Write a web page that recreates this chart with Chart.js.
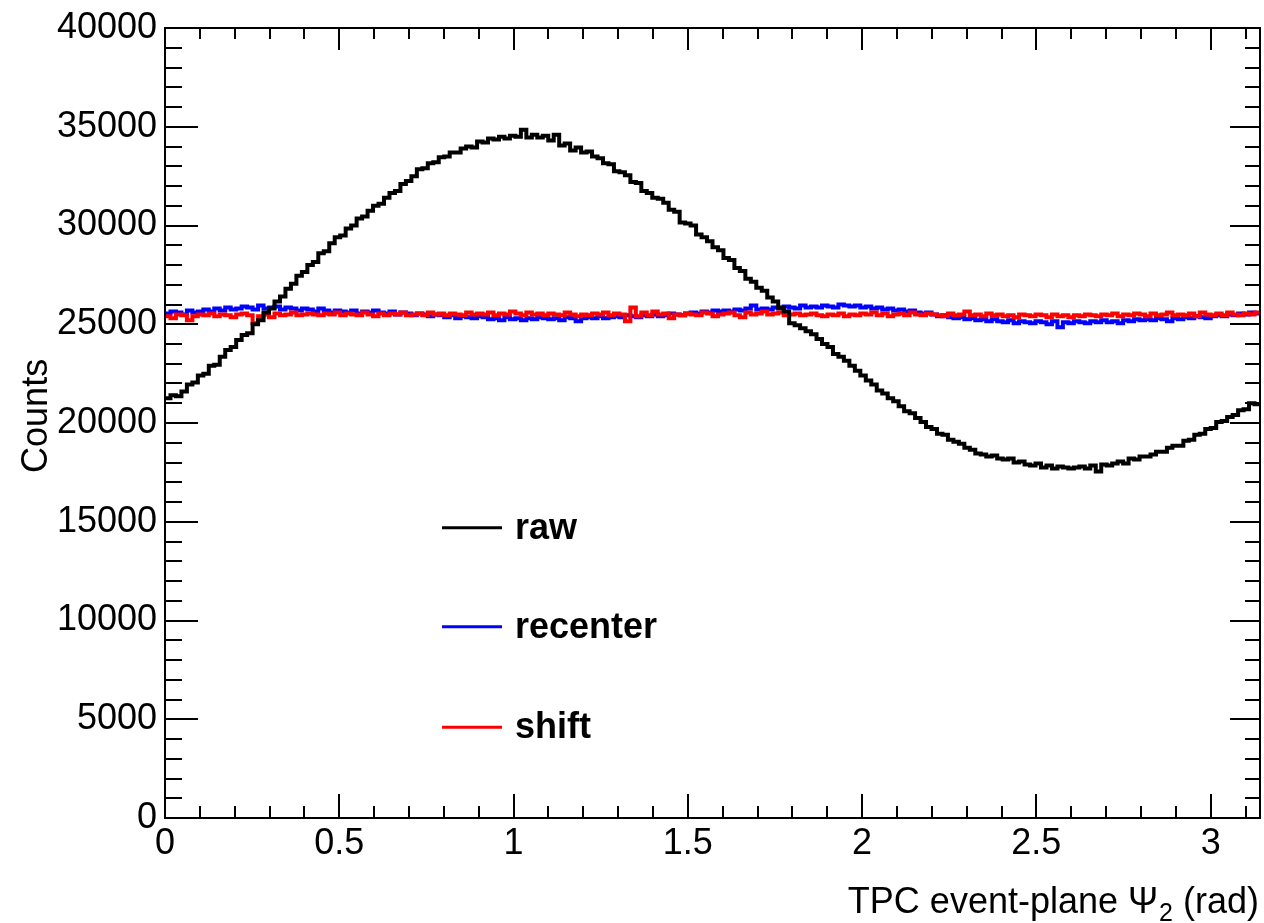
<!DOCTYPE html>
<html><head><meta charset="utf-8">
<script src="https://cdn.jsdelivr.net/npm/chart.js@4/dist/chart.umd.min.js"></script>
<style>html,body{margin:0;padding:0;background:#fff;overflow:hidden}#wrap{width:1264px;height:923px}</style>
</head><body><div id="wrap"><canvas id="c" width="1264" height="923"></canvas></div>
<script>
// ---------- data ----------
const seriesNames = ['raw', 'recenter', 'shift'];
const seriesColors = ['#000000', '#0000ff', '#ff0000'];
const xRange = [0, Math.PI];
const yRange = [0, 40000];
const xTickValues = [0, 0.5, 1, 1.5, 2, 2.5, 3];
const xTickLabels = ['0', '0.5', '1', '1.5', '2', '2.5', '3'];
const yTickValues = [0, 5000, 10000, 15000, 20000, 25000, 30000, 35000, 40000];
const yTickLabels = ['0', '5000', '10000', '15000', '20000', '25000', '30000', '35000', '40000'];
const xTitleMain = 'TPC event-plane \u03A8';
const xTitleSub = '2';
const xTitleTail = ' (rad)';
const yTitle = 'Counts';

const rawCounts = [
21250,21400,21350,21600,21950,22050,22400,22500,22900,22950,
23350,23700,23850,24200,24450,24550,25000,25200,25600,25800,
26150,26400,26800,27050,27450,27650,28000,28150,28600,28700,
29100,29400,29500,29850,30000,30350,30450,30750,31000,31100,
31400,31650,31750,32100,32250,32500,32850,32900,33150,33200,
33450,33500,33700,33700,33900,34000,33950,34250,34200,34400,
34350,34500,34400,34550,34500,34850,34450,34600,34450,34550,
34300,34600,34050,34150,33800,33950,33700,33750,33500,33400,
33150,33100,32750,32700,32550,32200,32150,31750,31650,31400,
31350,31150,30800,30700,30150,30100,30000,29550,29400,29200,
28900,28750,28350,28250,27850,27700,27300,27150,26850,26700,
26350,26150,25850,25650,25050,24950,24800,24650,24500,24250,
24000,23850,23500,23350,23150,22900,22650,22400,22150,21950,
21650,21500,21250,21100,20850,20600,20500,20250,20050,19800,
19700,19450,19400,19150,19050,18950,18750,18650,18450,18400,
18300,18350,18200,18150,18200,18000,18050,17900,17850,17950,
17750,17850,17700,17800,17750,17700,17750,17800,17700,17850,
17550,17900,17850,17950,18050,17950,18200,18150,18300,18300,
18400,18550,18550,18750,18850,18850,19100,19150,19400,19450,
19700,19750,20050,20100,20300,20400,20650,20700,21000,20950
];

const recenterCounts = [
25550,25650,25600,25500,25700,25600,25650,
25750,25650,25800,25700,25850,25750,
25800,25900,25850,25750,25950,25800,25850,
25900,25750,25850,25800,25700,25800,
25750,25650,25800,25700,25600,25700,
25650,25600,25700,25550,25650,25600,25700,
25600,25550,25650,25500,25600,25550,
25450,25550,25500,25400,25500,25450,
25350,25450,25300,25400,25350,25300,25400,
25350,25250,25300,25200,25350,25250,
25300,25200,25300,25250,25350,25300,
25250,25300,25200,25350,25300,25150,25300,
25350,25300,25400,25300,25350,25400,
25350,25450,25400,25350,25450,25400,
25500,25400,25450,25550,25500,25450,25550,
25600,25550,25650,25600,25700,25650,
25700,25650,25750,25700,25800,25950,25750,
25800,25750,25850,25800,25900,25850,
25800,25950,25850,25900,25850,25950,
25900,25850,26000,25950,25900,25950,25850,
25900,25800,25850,25750,25800,25700,
25750,25650,25700,25600,25550,25600,25500,
25400,25450,25350,25300,25350,25250,
25300,25200,25250,25150,25250,25150,
25100,25200,25050,25150,25100,25050,25150,
25100,25000,25150,24850,25100,25050,
25150,25100,25050,25150,25100,25200,
25100,25150,25050,25200,25150,25250,25200,
25250,25200,25300,25250,25150,25300,
25250,25350,25300,25400,25350,25300,25400,
25450,25400,25500,25450,25550,25500,25600,25550
];

const shiftCounts = [
25400,25300,25500,25450,25200,25400,25500,
25450,25550,25400,25500,25450,25350,
25500,25550,25450,25050,25400,25500,25350,
25550,25450,25500,25600,25450,25500,
25550,25500,25450,25550,25500,25600,
25450,25550,25500,25450,25600,25500,25400,
25550,25450,25550,25500,25600,25450,
25500,25550,25450,25600,25500,25550,
25450,25550,25500,25450,25600,25500,25550,
25500,25600,25450,25550,25500,25650,
25550,25450,25600,25500,25550,25450,
25550,25500,25450,25600,25500,25400,25500,
25450,25550,25500,25600,25450,25550,
25500,25150,25850,25400,25600,25450,
25650,25500,25550,25300,25500,25450,25550,
25500,25450,25600,25550,25400,25500,
25550,25600,25450,25350,25600,25500,25550,
25650,25500,25550,25600,25450,25500,
25550,25450,25500,25550,25450,25400,
25500,25450,25550,25400,25500,25450,25550,
25500,25600,25450,25550,25400,25500,
25550,25450,25600,25500,25450,25550,25500,
25450,25400,25550,25450,25500,25650,
25450,25500,25400,25550,25450,25500,
25400,25450,25350,25500,25450,25400,25500,
25450,25350,25500,25400,25450,25350,
25450,25400,25500,25450,25400,25500,
25450,25550,25400,25500,25450,25550,25500,
25400,25550,25450,25500,25600,25450,
25500,25450,25550,25400,25600,25500,25450,
25550,25450,25600,25500,25450,25550,25500,25600
];

// ---------- helpers ----------
function histPoints(counts) {
  const w = (xRange[1] - xRange[0]) / counts.length;
  const pts = counts.map((c, i) => ({ x: xRange[0] + i * w, y: c }));
  pts.push({ x: xRange[1], y: counts[counts.length - 1] });
  return pts;
}
const FONT = '"Liberation Sans", Helvetica, Arial, sans-serif';

// frame + inward ticks on all four sides
const frameTicks = {
  id: 'frameTicks',
  afterDatasetsDraw(chart) {
    const { ctx, chartArea: a, scales: { x, y } } = chart;
    ctx.save();
    ctx.strokeStyle = '#000';
    ctx.lineWidth = 2;
    ctx.beginPath();
    for (let k = 0; k * 0.1 <= xRange[1] + 1e-9; k++) {
      const px = Math.round(x.getPixelForValue(k * 0.1));
      const major = k % 5 === 0;
      const Lb = major ? 24 : 12, Lt = major ? 22 : 11;
      ctx.moveTo(px, a.bottom); ctx.lineTo(px, a.bottom - Lb);
      ctx.moveTo(px, a.top); ctx.lineTo(px, a.top + Lt);
    }
    for (let k = 0; k * 1000 <= yRange[1]; k++) {
      const py = Math.round(y.getPixelForValue(k * 1000));
      const major = k % 5 === 0;
      const Ll = major ? 33 : 17, Lr = major ? 30 : 15;
      ctx.moveTo(a.left, py); ctx.lineTo(a.left + Ll, py);
      ctx.moveTo(a.right, py); ctx.lineTo(a.right - Lr, py);
    }
    ctx.stroke();
    ctx.strokeRect(a.left, a.top, a.right - a.left, a.bottom - a.top);
    ctx.restore();
  }
};

// axis titles + legend drawn as text
const annotations = {
  id: 'annotations',
  afterDraw(chart) {
    const { ctx, chartArea: a } = chart;
    const W = a.right - a.left, H = a.bottom - a.top;
    ctx.save();
    ctx.fillStyle = '#000';
    const fMain = '36px ' + FONT, fSub = '25px ' + FONT;
    ctx.font = fMain;
    const w1 = ctx.measureText(xTitleMain).width;
    const w3 = ctx.measureText(xTitleTail).width;
    ctx.font = fSub;
    const w2 = ctx.measureText(xTitleSub).width;
    const base = chart.height - 10;
    let xs = a.right - 2 - (w1 + w2 + w3);
    ctx.textBaseline = 'alphabetic';
    ctx.textAlign = 'left';
    ctx.font = fMain; ctx.fillText(xTitleMain, xs, base); xs += w1;
    ctx.font = fSub; ctx.fillText(xTitleSub, xs + 1, base + 8); xs += w2 + 1;
    ctx.font = fMain; ctx.fillText(xTitleTail, xs, base);
    ctx.save();
    ctx.translate(47, a.top + 0.491 * H);
    ctx.rotate(-Math.PI / 2);
    ctx.textAlign = 'center';
    ctx.font = '36px ' + FONT;
    ctx.fillText(yTitle, 0, 0);
    ctx.restore();
    const rows = [0.6325, 0.7578, 0.8851];
    const lx0 = a.left + 0.253 * W, lx1 = a.left + 0.3078 * W, tx = a.left + 0.3196 * W;
    chart.data.datasets.forEach((ds, i) => {
      const yy = a.top + rows[i] * H;
      ctx.strokeStyle = ds.borderColor;
      ctx.lineWidth = 3;
      ctx.beginPath(); ctx.moveTo(lx0, yy); ctx.lineTo(lx1, yy); ctx.stroke();
      ctx.font = 'bold 36px ' + FONT;
      ctx.textAlign = 'left';
      ctx.textBaseline = 'alphabetic';
      ctx.fillStyle = '#000';
      ctx.fillText(ds.label, tx, yy + 11);
    });
    ctx.restore();
  }
};

const allCounts = [rawCounts, recenterCounts, shiftCounts];
const drawOrder = [0, 2, 1];

new Chart(document.getElementById('c'), {
  type: 'line',
  data: {
    datasets: seriesNames.map((n, i) => ({
      label: n,
      data: histPoints(allCounts[i]),
      borderColor: seriesColors[i],
      backgroundColor: seriesColors[i],
      borderWidth: 4,
      pointRadius: 0,
      stepped: 'before',
      fill: false,
      tension: 0,
      order: drawOrder[i]
    }))
  },
  options: {
    responsive: false,
    devicePixelRatio: 1,
    animation: false,
    events: [],
    layout: { padding: { top: 28, right: 4, left: 0, bottom: 0 } },
    plugins: { legend: { display: false }, tooltip: { enabled: false }, title: { display: false } },
    scales: {
      x: {
        type: 'linear',
        min: xRange[0], max: xRange[1],
        border: { display: false },
        grid: { display: false, drawTicks: false },
        afterBuildTicks(s) { s.ticks = xTickValues.map(v => ({ value: v })); },
        afterFit(s) { s.height = 105; s.paddingLeft = 0; s.paddingRight = 0; },
        ticks: {
          autoSkip: false, maxRotation: 0, padding: 4, color: '#000',
          font: { family: FONT, size: 36 },
          callback: (v) => xTickLabels[xTickValues.indexOf(v)]
        }
      },
      y: {
        type: 'linear',
        min: yRange[0], max: yRange[1],
        border: { display: false },
        grid: { display: false, drawTicks: false },
        afterBuildTicks(s) { s.ticks = yTickValues.map(v => ({ value: v })); },
        afterFit(s) { s.width = 165; s.paddingTop = 0; s.paddingBottom = 0; },
        ticks: {
          autoSkip: false, padding: 8, color: '#000',
          font: { family: FONT, size: 36 },
          callback: (v) => yTickLabels[yTickValues.indexOf(v)]
        }
      }
    }
  },
  plugins: [frameTicks, annotations]
});
</script>
</body></html>
